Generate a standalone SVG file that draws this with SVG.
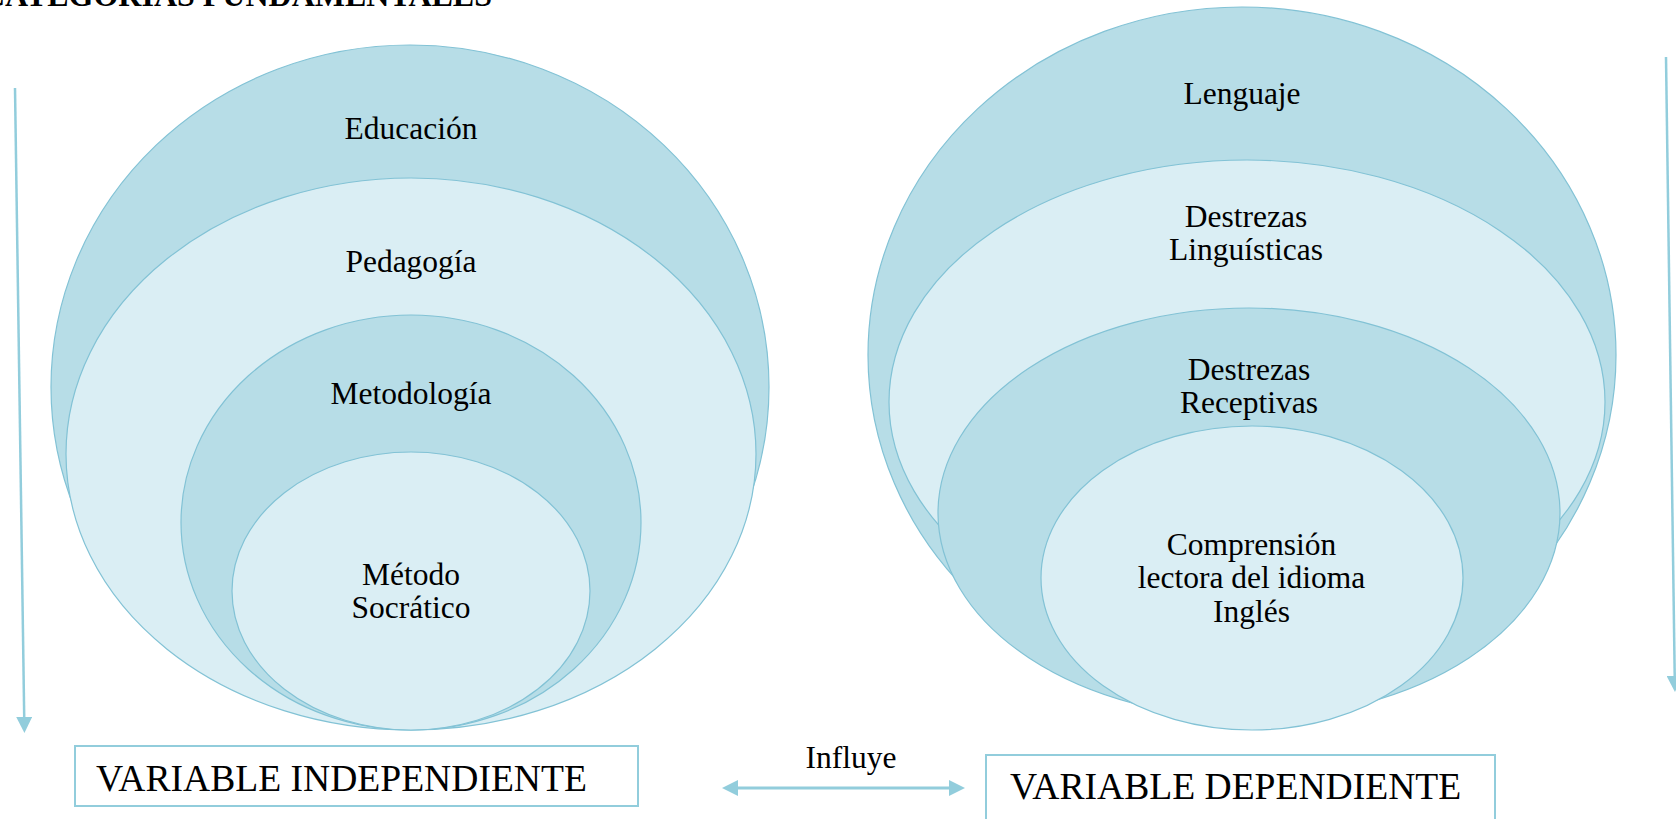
<svg xmlns="http://www.w3.org/2000/svg" width="1676" height="819" viewBox="0 0 1676 819">
<style>
.dk{fill:#b7dde7;stroke:#82c2d5;stroke-width:1.2}
.lt{fill:#daeef4;stroke:#82c2d5;stroke-width:1.2}
.lb{font-family:"Liberation Serif","Times New Roman",serif;font-size:31.5px;fill:#000;text-anchor:middle}
.bx{fill:#fff;stroke:#92cddc;stroke-width:2}
.bt{font-family:"Liberation Serif","Times New Roman",serif;font-size:37.6px;fill:#000}
.ar{stroke:#92cddc;fill:none}
.ttl{font-family:"Liberation Serif","Times New Roman",serif;font-size:32px;font-weight:bold;fill:#000}
</style>
<defs>
<marker id="ah" markerUnits="userSpaceOnUse" markerWidth="16" markerHeight="16" viewBox="0 0 16 16" refX="6" refY="8" orient="auto-start-reverse">
<path d="M0,0 L16,8 L0,16 z" fill="#92cddc"/>
</marker>
</defs>
<text class="ttl" x="-18" y="6">CATEGORÍAS FUNDAMENTALES</text>

<g id="left-group">
<g id="educacion"><ellipse class="dk" cx="410" cy="387" rx="359" ry="342"/><text class="lb" x="411" y="139">Educación</text></g>
<g id="pedagogia"><ellipse class="lt" cx="411" cy="454" rx="345" ry="276"/><text class="lb" x="411" y="272">Pedagogía</text></g>
<g id="metodologia"><ellipse class="dk" cx="411" cy="522.5" rx="230" ry="207.5"/><text class="lb" x="411" y="404">Metodología</text></g>
<g id="metodo-socratico"><ellipse class="lt" cx="411" cy="591" rx="179" ry="139"/><text class="lb" x="411" y="585">Método</text><text class="lb" x="411" y="618">Socrático</text></g>
</g>

<g id="right-group">
<g id="lenguaje"><ellipse class="dk" cx="1242" cy="355" rx="374" ry="348"/><text class="lb" x="1242" y="104">Lenguaje</text></g>
<g id="destrezas-linguisticas"><ellipse class="lt" cx="1247" cy="402" rx="358" ry="242"/><text class="lb" x="1246" y="227">Destrezas</text><text class="lb" x="1246" y="260">Linguísticas</text></g>
<g id="destrezas-receptivas"><ellipse class="dk" cx="1249" cy="513" rx="311" ry="205"/><text class="lb" x="1249" y="380">Destrezas</text><text class="lb" x="1249" y="413">Receptivas</text></g>
<g id="comprension"><ellipse class="lt" cx="1252" cy="578" rx="211" ry="152"/><text class="lb" x="1251.5" y="555">Comprensión</text><text class="lb" x="1251.5" y="588">lectora del idioma</text><text class="lb" x="1251.5" y="622">Inglés</text></g>
</g>

<g id="var-independiente"><rect class="bx" x="75" y="746" width="563" height="60"/><text class="bt" x="96" y="791">VARIABLE INDEPENDIENTE</text></g>
<g id="var-dependiente"><rect class="bx" x="986" y="755" width="509" height="80"/><text class="bt" x="1010" y="799">VARIABLE DEPENDIENTE</text></g>

<g id="connectors">
<line class="ar" x1="15" y1="88" x2="24.3" y2="723" stroke-width="2.5" marker-end="url(#ah)"/>
<line class="ar" x1="1666" y1="57" x2="1674.8" y2="682" stroke-width="2.5" marker-end="url(#ah)"/>
<line class="ar" x1="732" y1="788" x2="955" y2="788" stroke-width="3" marker-start="url(#ah)" marker-end="url(#ah)"/>
<text class="lb" x="851" y="768">Influye</text>
</g>
</svg>
